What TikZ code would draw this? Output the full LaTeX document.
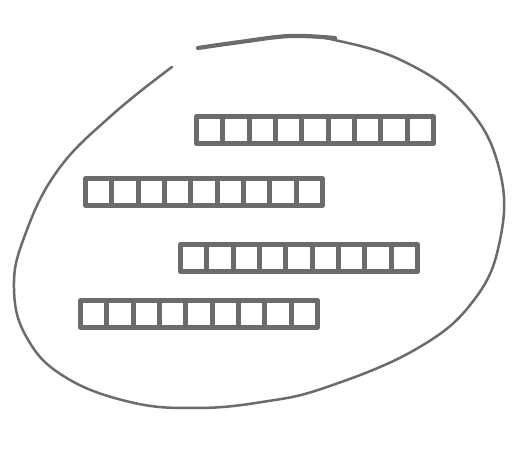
\documentclass[tikz,border=0pt]{standalone}
\begin{document}
\begin{tikzpicture}[x=1pt,y=-1pt,
  ink/.style={draw=black!58},
  barline/.style={ink,line width=4.8pt,line join=round},
  loopline/.style={ink,line width=2.5pt,line cap=round,line join=round},
  cellrow/.pic={\foreach \i in {0,...,8}{\draw[barline] (\i*26.33,0) rectangle ++(26.33,27);}}]
\useasboundingbox (0,0) rectangle (520,454);
% outline loop
\draw[loopline] plot[smooth,tension=0.7] coordinates {(172,67) (112,115) (58,170) (25,235) (14,288) (27,338) (65,377) (130,402) (195,408) (262,402) (327,387) (418,348) (474,300) (500,240) (500,172) (468,108) (405,62) (330,39) (290,36)};
\draw[ink,line width=4.2pt,line cap=round] plot[smooth,tension=0.6] coordinates {(335,38) (290,36) (240,42) (198,48)};
% bars
\pic (b1) at (196.5,116.5) {cellrow};
\pic (b2) at (85.5,178.5) {cellrow};
\pic (b3) at (180.5,244.5) {cellrow};
\pic (b4) at (80.5,300.5) {cellrow};
\end{tikzpicture}
\end{document}
